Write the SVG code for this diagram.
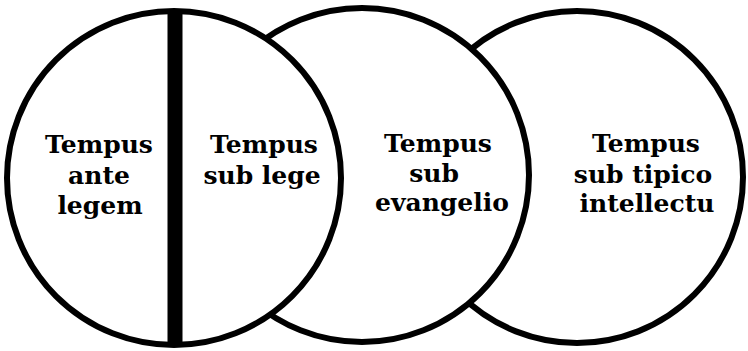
<svg xmlns="http://www.w3.org/2000/svg" width="748" height="351" viewBox="0 0 748 351">
<style>
.c{fill:#fff;stroke:#000;stroke-width:6}
.t{font-family:"DejaVu Serif","Liberation Serif",serif;font-weight:bold;font-size:25px;fill:#000;text-anchor:middle}
</style>
<rect width="748" height="351" fill="#fff"/>
<g id="circle3"><circle class="c" cx="577" cy="177" r="166"/></g>
<g id="circle2"><circle class="c" cx="362" cy="175" r="167"/></g>
<g id="circle1"><circle class="c" cx="174" cy="178" r="167"/>
<rect x="167.5" y="9" width="15" height="337" fill="#000"/></g>
<g id="n1"><text class="t" x="99" y="153">Tempus</text><text class="t" x="99" y="184">ante</text><text class="t" x="100" y="214">legem</text></g>
<g id="n2"><text class="t" x="264" y="153">Tempus</text><text class="t" x="262" y="184">sub lege</text></g>
<g id="n3"><text class="t" x="438" y="152">Tempus</text><text class="t" x="434" y="182">sub</text><text class="t" x="442" y="211">evangelio</text></g>
<g id="n4"><text class="t" x="646" y="152">Tempus</text><text class="t" x="643" y="183">sub tipico</text><text class="t" x="647" y="212">intellectu</text></g>
<g id="connectors"/>
</svg>
